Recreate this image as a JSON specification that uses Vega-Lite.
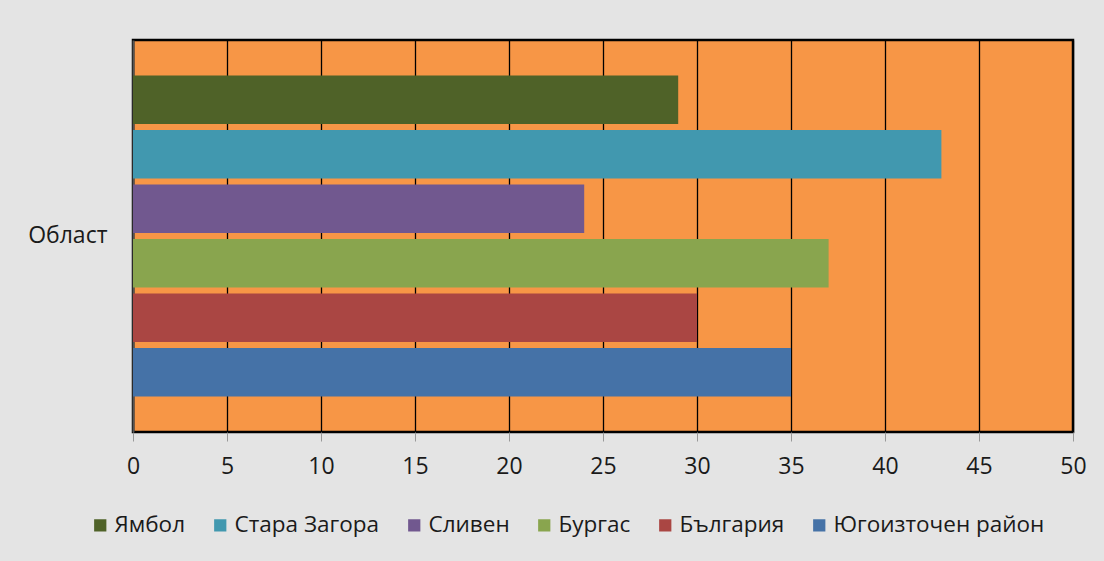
{
  "$schema": "https://vega.github.io/schema/vega-lite/v6.json",
  "autosize": {"type": "none"},
  "width": 940,
  "height": 392,
  "padding": {"left": 133, "top": 40, "right": 31, "bottom": 129},
  "background": "#e4e4e4",
  "config": {
    "font": "Open Sans",
    "view": {"fill": "#f79646", "stroke": "#000000", "strokeWidth": 2.5}
  },
  "data": {
    "values": [
      {"cat": "Област", "series": "Ямбол", "value": 29},
      {"cat": "Област", "series": "Стара Загора", "value": 43},
      {"cat": "Област", "series": "Сливен", "value": 24},
      {"cat": "Област", "series": "Бургас", "value": 37},
      {"cat": "Област", "series": "България", "value": 30},
      {"cat": "Област", "series": "Югоизточен район", "value": 35}
    ]
  },
  "mark": {"type": "bar"},
  "encoding": {
    "y": {
      "field": "cat",
      "type": "nominal",
      "scale": {"paddingInner": 0, "paddingOuter": 0.1},
      "axis": {
        "title": null,
        "labelFontSize": 23,
        "labelColor": "#1a1a1a",
        "labelPadding": 26,
        "ticks": false,
        "domain": true,
        "domainColor": "#555555",
        "domainWidth": 2
      }
    },
    "yOffset": {
      "field": "series",
      "type": "nominal",
      "sort": ["Ямбол", "Стара Загора", "Сливен", "Бургас", "България", "Югоизточен район"],
      "scale": {"paddingInner": 0.11, "paddingOuter": 0.05}
    },
    "x": {
      "field": "value",
      "type": "quantitative",
      "scale": {"domain": [0, 50], "nice": false},
      "axis": {
        "title": null,
        "values": [0, 5, 10, 15, 20, 25, 30, 35, 40, 45, 50],
        "grid": true,
        "gridColor": "#000000",
        "gridWidth": 1.3,
        "gridOpacity": 1,
        "domain": false,
        "tickColor": "#999999",
        "tickSize": 9,
        "labelFlush": false,
        "labelFontSize": 23,
        "labelColor": "#1a1a1a",
        "labelPadding": 14
      }
    },
    "color": {
      "field": "series",
      "type": "nominal",
      "sort": ["Ямбол", "Стара Загора", "Сливен", "Бургас", "България", "Югоизточен район"],
      "scale": {
        "domain": ["Ямбол", "Стара Загора", "Сливен", "Бургас", "България", "Югоизточен район"],
        "range": ["#4f6228", "#4198af", "#71588f", "#89a54e", "#aa4643", "#4572a7"]
      },
      "legend": {
        "title": null,
        "orient": "none",
        "legendX": -44,
        "legendY": 474,
        "direction": "horizontal",
        "symbolType": "square",
        "symbolSize": 150,
        "symbolStrokeWidth": 0,
        "labelFontSize": 22.5,
        "labelLimit": 400,
        "labelColor": "#1a1a1a",
        "labelOffset": 3,
        "columnPadding": 23
      }
    }
  }
}
